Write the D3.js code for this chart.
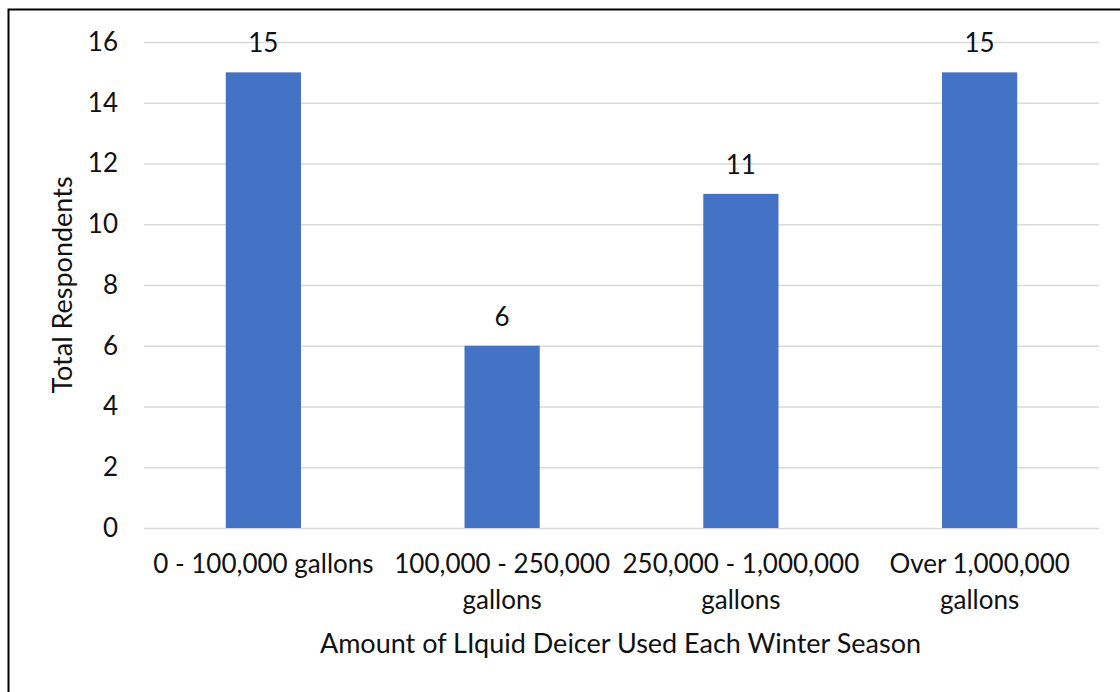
<!DOCTYPE html>
<html>
<head>
<meta charset="utf-8">
<script src="https://cdn.jsdelivr.net/npm/d3@7/dist/d3.min.js"></script>
<style>
  html, body { margin: 0; padding: 0; background: #fff; }
  svg { display: block; }
  text { font-family: Lato, "Open Sans", sans-serif; fill: #111; }
</style>
</head>
<body>
<svg id="chart" width="1120" height="692"></svg>
<script>
// Survey responses: amount of liquid deicer used per winter season
const categories = [
  ["0 - 100,000 gallons"],
  ["100,000 - 250,000", "gallons"],
  ["250,000 - 1,000,000", "gallons"],
  ["Over 1,000,000", "gallons"]
];
const respondents = [15, 6, 11, 15];
const yTicks = [0, 2, 4, 6, 8, 10, 12, 14, 16];
const xTitle = "Amount of LIquid Deicer Used Each Winter Season";
const yTitle = "Total Respondents";

const W = 1120, H = 692;
const plot = { left: 144, right: 1099, top: 42, bottom: 528 };
const fontSize = 26;
const titleSize = 27;

const svg = d3.select("#chart");

// Frame around the chart area
svg.append("rect")
  .attr("x", 8.5).attr("y", 9.5)
  .attr("width", W + 20).attr("height", H + 20)
  .attr("fill", "none").attr("stroke", "#000").attr("stroke-width", 2);

const keys = categories.map(c => c.join(" "));

const x = d3.scaleBand()
  .domain(keys)
  .range([plot.left, plot.right])
  .paddingInner(0.685)
  .paddingOuter(0.3425);

const y = d3.scaleLinear()
  .domain([0, 16])
  .range([plot.bottom, plot.top]);

// Horizontal gridlines + tick labels
const yAxis = d3.axisLeft(y)
  .tickValues(yTicks)
  .tickSize(-(plot.right - plot.left))
  .tickPadding(26);

const gy = svg.append("g")
  .attr("transform", `translate(${plot.left},0)`)
  .call(yAxis);
gy.select(".domain").remove();
gy.selectAll(".tick line").attr("stroke", "#d9d9d9").attr("stroke-width", 1.5);
gy.selectAll(".tick text")
  .attr("font-size", fontSize)
  .attr("fill", "#111")
  .style("font-family", "Lato, sans-serif");

// Bars
svg.append("g").selectAll("rect")
  .data(respondents)
  .join("rect")
  .attr("x", (d, i) => x(keys[i]))
  .attr("width", x.bandwidth())
  .attr("y", d => y(d))
  .attr("height", d => y(0) - y(d))
  .attr("fill", "#4472c4");

// Value labels
svg.append("g").selectAll("text")
  .data(respondents)
  .join("text")
  .attr("x", (d, i) => x(keys[i]) + x.bandwidth() / 2)
  .attr("y", d => y(d) - 20)
  .attr("text-anchor", "middle")
  .attr("font-size", fontSize)
  .text(d => d);

// Category labels (wrapped over two lines)
const cat = svg.append("g").selectAll("text")
  .data(categories)
  .join("text")
  .attr("x", (d, i) => x(keys[i]) + x.bandwidth() / 2)
  .attr("y", 573)
  .attr("text-anchor", "middle")
  .attr("font-size", fontSize);
cat.selectAll("tspan")
  .data(d => d)
  .join("tspan")
  .attr("x", function () { return this.parentNode.getAttribute("x"); })
  .attr("dy", (d, i) => i === 0 ? 0 : 36)
  .text(d => d);

// Axis titles
svg.append("text")
  .attr("x", (plot.left + plot.right) / 2 - 1)
  .attr("y", 653)
  .attr("text-anchor", "middle")
  .attr("font-size", titleSize)
  .text(xTitle);

svg.append("text")
  .attr("transform", "translate(72,285) rotate(-90)")
  .attr("text-anchor", "middle")
  .attr("font-size", titleSize)
  .text(yTitle);
</script>
</body>
</html>
